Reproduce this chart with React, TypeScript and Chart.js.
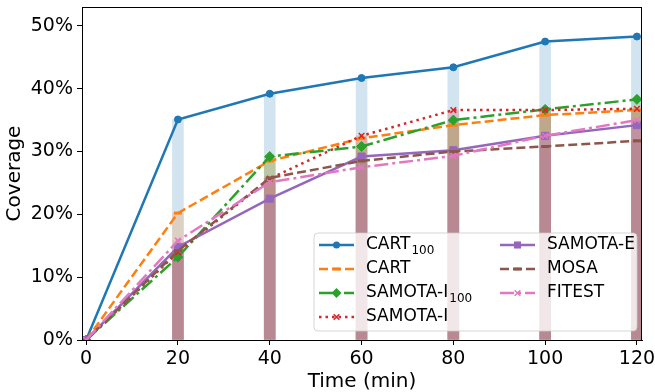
import React, { useEffect, useRef } from 'react';
import { Chart, registerables } from 'chart.js';
Chart.register(...registerables);

const times = [0, 20, 40, 60, 80, 100, 120];
const barTimes = [20, 40, 60, 80, 100, 120];
const xTicks = [0, 20, 40, 60, 80, 100, 120];
const yTicks = [0, 10, 20, 30, 40, 50];

const seriesNames = ['CART', 'CART', 'SAMOTA-I', 'SAMOTA-I', 'SAMOTA-E', 'MOSA', 'FITEST'];
const seriesSubs = ['100', '', '100', '', '', '', ''];

const cart100 = [0, 35.1, 39.2, 41.7, 43.4, 47.5, 48.3];
const cart = [0, 20.2, 28.5, 32.1, 34.2, 35.8, 36.6];
const samotaI100 = [0, 13.2, 29.2, 30.8, 35.0, 36.7, 38.3];
const samotaI = [0, 14.0, 25.7, 32.5, 36.6, 36.6, 36.8];
const samotaE = [0, 14.8, 22.5, 29.2, 30.2, 32.5, 34.2];
const mosa = [0, 14.2, 25.8, 28.5, 30.0, 30.8, 31.7];
const fitest = [0, 15.8, 25.1, 27.5, 29.3, 32.5, 35.0];

const seriesValues = [cart100, cart, samotaI100, samotaI, samotaE, mosa, fitest];

const colors = ['#1f77b4', '#ff7f0e', '#2ca02c', '#d62728', '#9467bd', '#8c564b', '#e377c2'];
const barColors = [
  'rgba(31,119,180,0.2)', 'rgba(255,127,14,0.2)', 'rgba(44,160,44,0.2)', 'rgba(214,39,40,0.2)',
  'rgba(148,103,189,0.2)', 'rgba(140,86,75,0.2)', 'rgba(227,119,194,0.2)',
];
const dashes = [[], [9, 4], [14, 4, 3, 4], [2.5, 4], [], [9, 4], [14, 4, 3, 4]];
const markers = ['circle', 'line', 'rectRot', 'crossRot', 'rect', 'line', 'crossRot'];
const markerRadius = [3.5, 4, 5, 4, 5, 4, 4];

const FONT = "'DejaVu Sans', sans-serif";

function drawMarker(ctx: CanvasRenderingContext2D, style: string, x: number, y: number, r: number, color: string) {
  ctx.save();
  ctx.setLineDash([]);
  ctx.fillStyle = color;
  ctx.strokeStyle = color;
  ctx.lineWidth = 1.5;
  ctx.beginPath();
  if (style === 'circle') {
    ctx.arc(x, y, r, 0, Math.PI * 2);
    ctx.fill();
  } else if (style === 'rect') {
    const s = r * Math.SQRT1_2;
    ctx.rect(x - s, y - s, 2 * s, 2 * s);
    ctx.fill();
  } else if (style === 'rectRot') {
    ctx.moveTo(x, y - r);
    ctx.lineTo(x + r, y);
    ctx.lineTo(x, y + r);
    ctx.lineTo(x - r, y);
    ctx.closePath();
    ctx.fill();
  } else if (style === 'crossRot') {
    const s = r * Math.SQRT1_2;
    ctx.moveTo(x - s, y - s);
    ctx.lineTo(x + s, y + s);
    ctx.moveTo(x + s, y - s);
    ctx.lineTo(x - s, y + s);
    ctx.stroke();
  } else if (style === 'line') {
    ctx.lineWidth = 3;
    ctx.moveTo(x - r, y);
    ctx.lineTo(x + r, y);
    ctx.stroke();
  }
  ctx.restore();
}

const legendPlugin = {
  id: 'customLegend',
  afterDraw(chart: any) {
    const ctx: CanvasRenderingContext2D = chart.ctx;
    const ca = chart.chartArea;
    ctx.save();
    ctx.strokeStyle = '#000';
    ctx.lineWidth = 1;
    ctx.strokeRect(Math.round(ca.left) + 0.5, Math.round(ca.top) + 0.5, Math.round(ca.right - ca.left) - 1, Math.round(ca.bottom - ca.top));
    const bx = 314, by = 233, bw = 323, bh = 98, rr = 4;
    ctx.beginPath();
    ctx.moveTo(bx + rr, by);
    ctx.lineTo(bx + bw - rr, by);
    ctx.quadraticCurveTo(bx + bw, by, bx + bw, by + rr);
    ctx.lineTo(bx + bw, by + bh - rr);
    ctx.quadraticCurveTo(bx + bw, by + bh, bx + bw - rr, by + bh);
    ctx.lineTo(bx + rr, by + bh);
    ctx.quadraticCurveTo(bx, by + bh, bx, by + bh - rr);
    ctx.lineTo(bx, by + rr);
    ctx.quadraticCurveTo(bx, by, bx + rr, by);
    ctx.closePath();
    ctx.fillStyle = 'rgba(255,255,255,0.8)';
    ctx.fill();
    ctx.strokeStyle = 'rgba(204,204,204,0.8)';
    ctx.lineWidth = 1;
    ctx.stroke();

    const rowsY = [245, 269, 293, 317];
    const cols = [
      { x1: 319, x2: 354, tx: 366 },
      { x1: 500, x2: 535, tx: 547 },
    ];
    for (let i = 0; i < seriesNames.length; i++) {
      const col = cols[i < 4 ? 0 : 1];
      const y = rowsY[i < 4 ? i : i - 4];
      ctx.save();
      ctx.strokeStyle = colors[i];
      ctx.lineWidth = 2.5;
      ctx.setLineDash(dashes[i]);
      ctx.beginPath();
      ctx.moveTo(col.x1, y);
      ctx.lineTo(col.x2, y);
      ctx.stroke();
      ctx.restore();
      drawMarker(ctx, markers[i], (col.x1 + col.x2) / 2, y, markerRadius[i], colors[i]);
      ctx.fillStyle = '#000';
      ctx.textBaseline = 'middle';
      ctx.textAlign = 'left';
      ctx.font = `17px ${FONT}`;
      ctx.fillText(seriesNames[i], col.tx, y);
      if (seriesSubs[i]) {
        const w = ctx.measureText(seriesNames[i]).width;
        ctx.font = `12px ${FONT}`;
        ctx.fillText(seriesSubs[i], col.tx + w + 1, y + 6);
      }
    }
    ctx.restore();
  },
};

export default function App() {
  const ref = useRef<HTMLCanvasElement | null>(null);
  useEffect(() => {
    if (!ref.current) return;
    Chart.defaults.font.family = FONT;
    const datasets: any[] = [];
    seriesValues.forEach((vals, i) => {
      datasets.push({
        type: 'line',
        label: seriesNames[i] + seriesSubs[i],
        data: times.map((t, j) => ({ x: t, y: vals[j] })),
        borderColor: colors[i],
        backgroundColor: colors[i],
        borderWidth: 2.5,
        borderDash: dashes[i],
        pointStyle: markers[i],
        pointRadius: markerRadius[i],
        pointBorderWidth: markers[i] === 'crossRot' ? 1.5 : markers[i] === 'line' ? 3 : 1,
        pointBackgroundColor: colors[i],
        pointBorderColor: colors[i],
        tension: 0,
        fill: false,
        order: 7 - i,
      });
    });
    seriesValues.forEach((vals, i) => {
      datasets.push({
        type: 'bar',
        label: 'bar' + i,
        data: barTimes.map((t) => ({ x: t, y: vals[times.indexOf(t)] })),
        backgroundColor: barColors[i],
        borderWidth: 0,
        barThickness: 11,
        grouped: false,
        order: 20 - i,
      });
    });
    const chart = new Chart(ref.current, {
      type: 'line',
      data: { datasets },
      options: {
        animation: false,
        responsive: false,
        devicePixelRatio: 1,
        layout: { padding: { top: 6, right: 13, left: 0, bottom: 0 } },
        plugins: { legend: { display: false }, tooltip: { enabled: false } },
        scales: {
          x: {
            type: 'linear',
            min: -0.9,
            max: 121.1,
            offset: false,
            afterFit: (s: any) => { s.height = 52; s.paddingLeft = 0; s.paddingRight = 0; },
            afterBuildTicks: (s: any) => { s.ticks = xTicks.map((v) => ({ value: v })); },
            grid: { display: true, drawOnChartArea: false, drawTicks: true, tickLength: 5, color: '#000', offset: false },
            border: { display: true, color: '#000', width: 1 },
            ticks: { color: '#000', font: { size: 19, family: FONT }, padding: 3, maxRotation: 0, autoSkip: false },
            title: { display: true, text: 'Time (min)', color: '#000', font: { size: 20, family: FONT, lineHeight: 1.0 }, padding: { top: 0, bottom: 0 } },
          },
          y: {
            type: 'linear',
            min: 0,
            max: 53,
            afterFit: (s: any) => { s.width = 82; s.paddingTop = 0; s.paddingBottom = 0; },
            afterBuildTicks: (s: any) => { s.ticks = yTicks.map((v) => ({ value: v })); },
            grid: { display: true, drawOnChartArea: false, drawTicks: true, tickLength: 5, color: '#000' },
            border: { display: true, color: '#000', width: 1 },
            ticks: { color: '#000', font: { size: 19, family: FONT }, padding: 4, callback: (v: any) => `${v}%` },
            title: { display: true, text: 'Coverage', color: '#000', font: { size: 20, family: FONT }, padding: { top: 3, bottom: 0 } },
          },
        },
      },
      plugins: [legendPlugin],
    } as any);
    return () => chart.destroy();
  }, []);
  return (
    <div style={{ position: 'absolute', left: 0, top: 0, width: 655, height: 392, background: '#fff' }}>
      <canvas ref={ref} width={655} height={392} style={{ width: 655, height: 392 }} />
    </div>
  );
}
